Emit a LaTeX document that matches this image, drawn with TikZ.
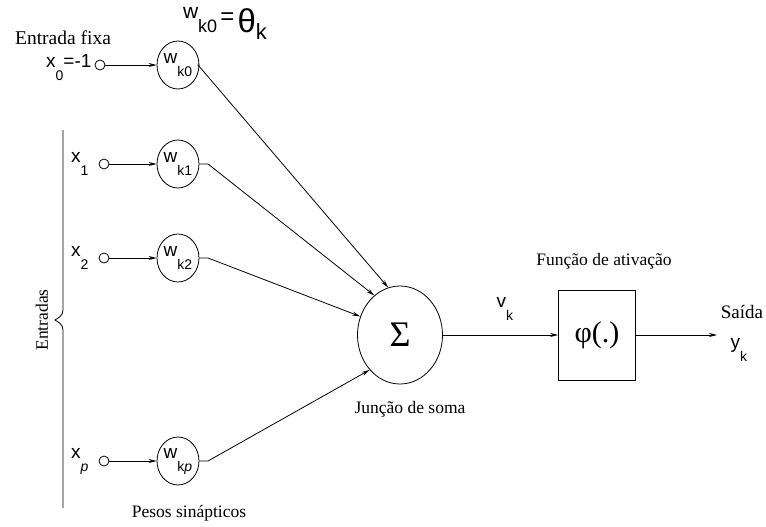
\documentclass[tikz,border=0pt]{standalone}
\usepackage{fontspec}
\setmainfont{Liberation Serif}
\setsansfont{Liberation Sans}
\usetikzlibrary{arrows.meta,positioning,shapes.geometric}
\newcommand{\lsub}[2]{\textsf{#1}\raisebox{-13pt}{\fontsize{14}{14}\selectfont\textsf{#2}}}

\begin{document}
\begin{tikzpicture}[x=1pt, y=-1pt,
    wgt/.style={draw, ellipse, line width=0.8pt, minimum width=42pt, minimum height=48pt,
      inner sep=0pt, font=\fontsize{19}{22}\sffamily},
    inp/.style={draw, circle, line width=0.8pt, minimum size=10pt, inner sep=0pt},
    lbl/.style={font=\fontsize{19}{22}\sffamily, inner sep=1pt},
    txt/.style={font=\fontsize{17.5}{21}\selectfont, inner sep=0pt},
    arr/.style={-{Stealth[length=8pt,width=4pt]}, line width=0.8pt}]
  \useasboundingbox (0,0) rectangle (766,527);
  % pesos sinapticos
  \node[wgt] (w0) at (178,65) {\lsub{w}{k0}};
  \node[wgt] (w1) at (178,164) {\lsub{w}{k1}};
  \node[wgt] (w2) at (178,258) {\lsub{w}{k2}};
  \node[wgt] (wp) at (178,461) {\lsub{w}{k\textit{p}}};
  % entradas
  \node[inp] (i0) at (100,65) {};
  \node[inp] (i1) at (104,164) {};
  \node[inp] (i2) at (104,258) {};
  \node[inp] (ip) at (104,461) {};
  \node[lbl, left=2pt of i0, yshift=-3pt] (x0) {\lsub{x}{0}=-1};
  \node[lbl, left=9pt of i1] (x1) {\lsub{x}{1}};
  \node[lbl, left=9pt of i2] (x2) {\lsub{x}{2}};
  \node[lbl, left=9pt of ip] (xp) {\lsub{x}{\textit{p}}};
  \node[txt, font=\fontsize{19.5}{22}\selectfont] (fixa) at (63,38) {Entrada fixa};
  \node[lbl] (theta) at (225,23) {{\fontsize{21}{21}\selectfont\raisebox{14pt}{w}}{\fontsize{18}{18}\selectfont k0}\,\raisebox{8pt}{\fontsize{24}{24}\selectfont =}\,{\fontsize{33}{33}\selectfont θ}\raisebox{-7pt}{\fontsize{22}{22}\selectfont k}};
  % chave das entradas
  \draw[line width=0.8pt] (63,130) -- (63,310) .. controls (63,316) and (58,318) .. (55,320)
    .. controls (58,322) and (63,324) .. (63,330) -- (63,508);
  \node[txt, rotate=90] (ent) at (42,320) {Entradas};
  % somador e ativacao
  \node[draw, ellipse, line width=0.8pt, minimum width=85pt, minimum height=98pt,
    font=\fontsize{36}{36}\selectfont] (sum) at (400,335) {Σ};
  \node[draw, line width=0.8pt, minimum width=77pt, minimum height=90pt,
    font=\fontsize{30}{30}\selectfont] (phi) at (597,335) {φ(.)};
  \coordinate (out) at (717,335);
  \node[txt] (soma) at (410,409) {Junção de soma};
  \node[txt] (ativ) at (604,261) {Função de ativação};
  \node[txt] (pesos) at (189,513) {Pesos sinápticos};
  \node[lbl] (vk) at (505,309) {\lsub{v}{k}};
  \node[txt, font=\fontsize{19}{22}\selectfont] (saida) at (742,312) {Saída};
  \node[lbl] (yk) at (739,350) {\lsub{y}{k}};
  % conexoes
  \draw[arr] (i0) -- (w0);
  \draw[arr] (i1) -- (w1);
  \draw[arr] (i2) -- (w2);
  \draw[arr] (ip) -- (wp);
  \draw[arr] (w0) -- ++(20,0) -- (sum.104);
  \draw[arr] (w1) -- ++(30,0) -- (sum.123);
  \draw[arr] (w2) -- ++(30,0) -- (sum.155);
  \draw[arr] (wp) -- ++(30,0) -- (sum.229);
  \draw[arr] (sum) -- (phi);
  \draw[arr] (phi) -- (out);
\end{tikzpicture}
\end{document}
